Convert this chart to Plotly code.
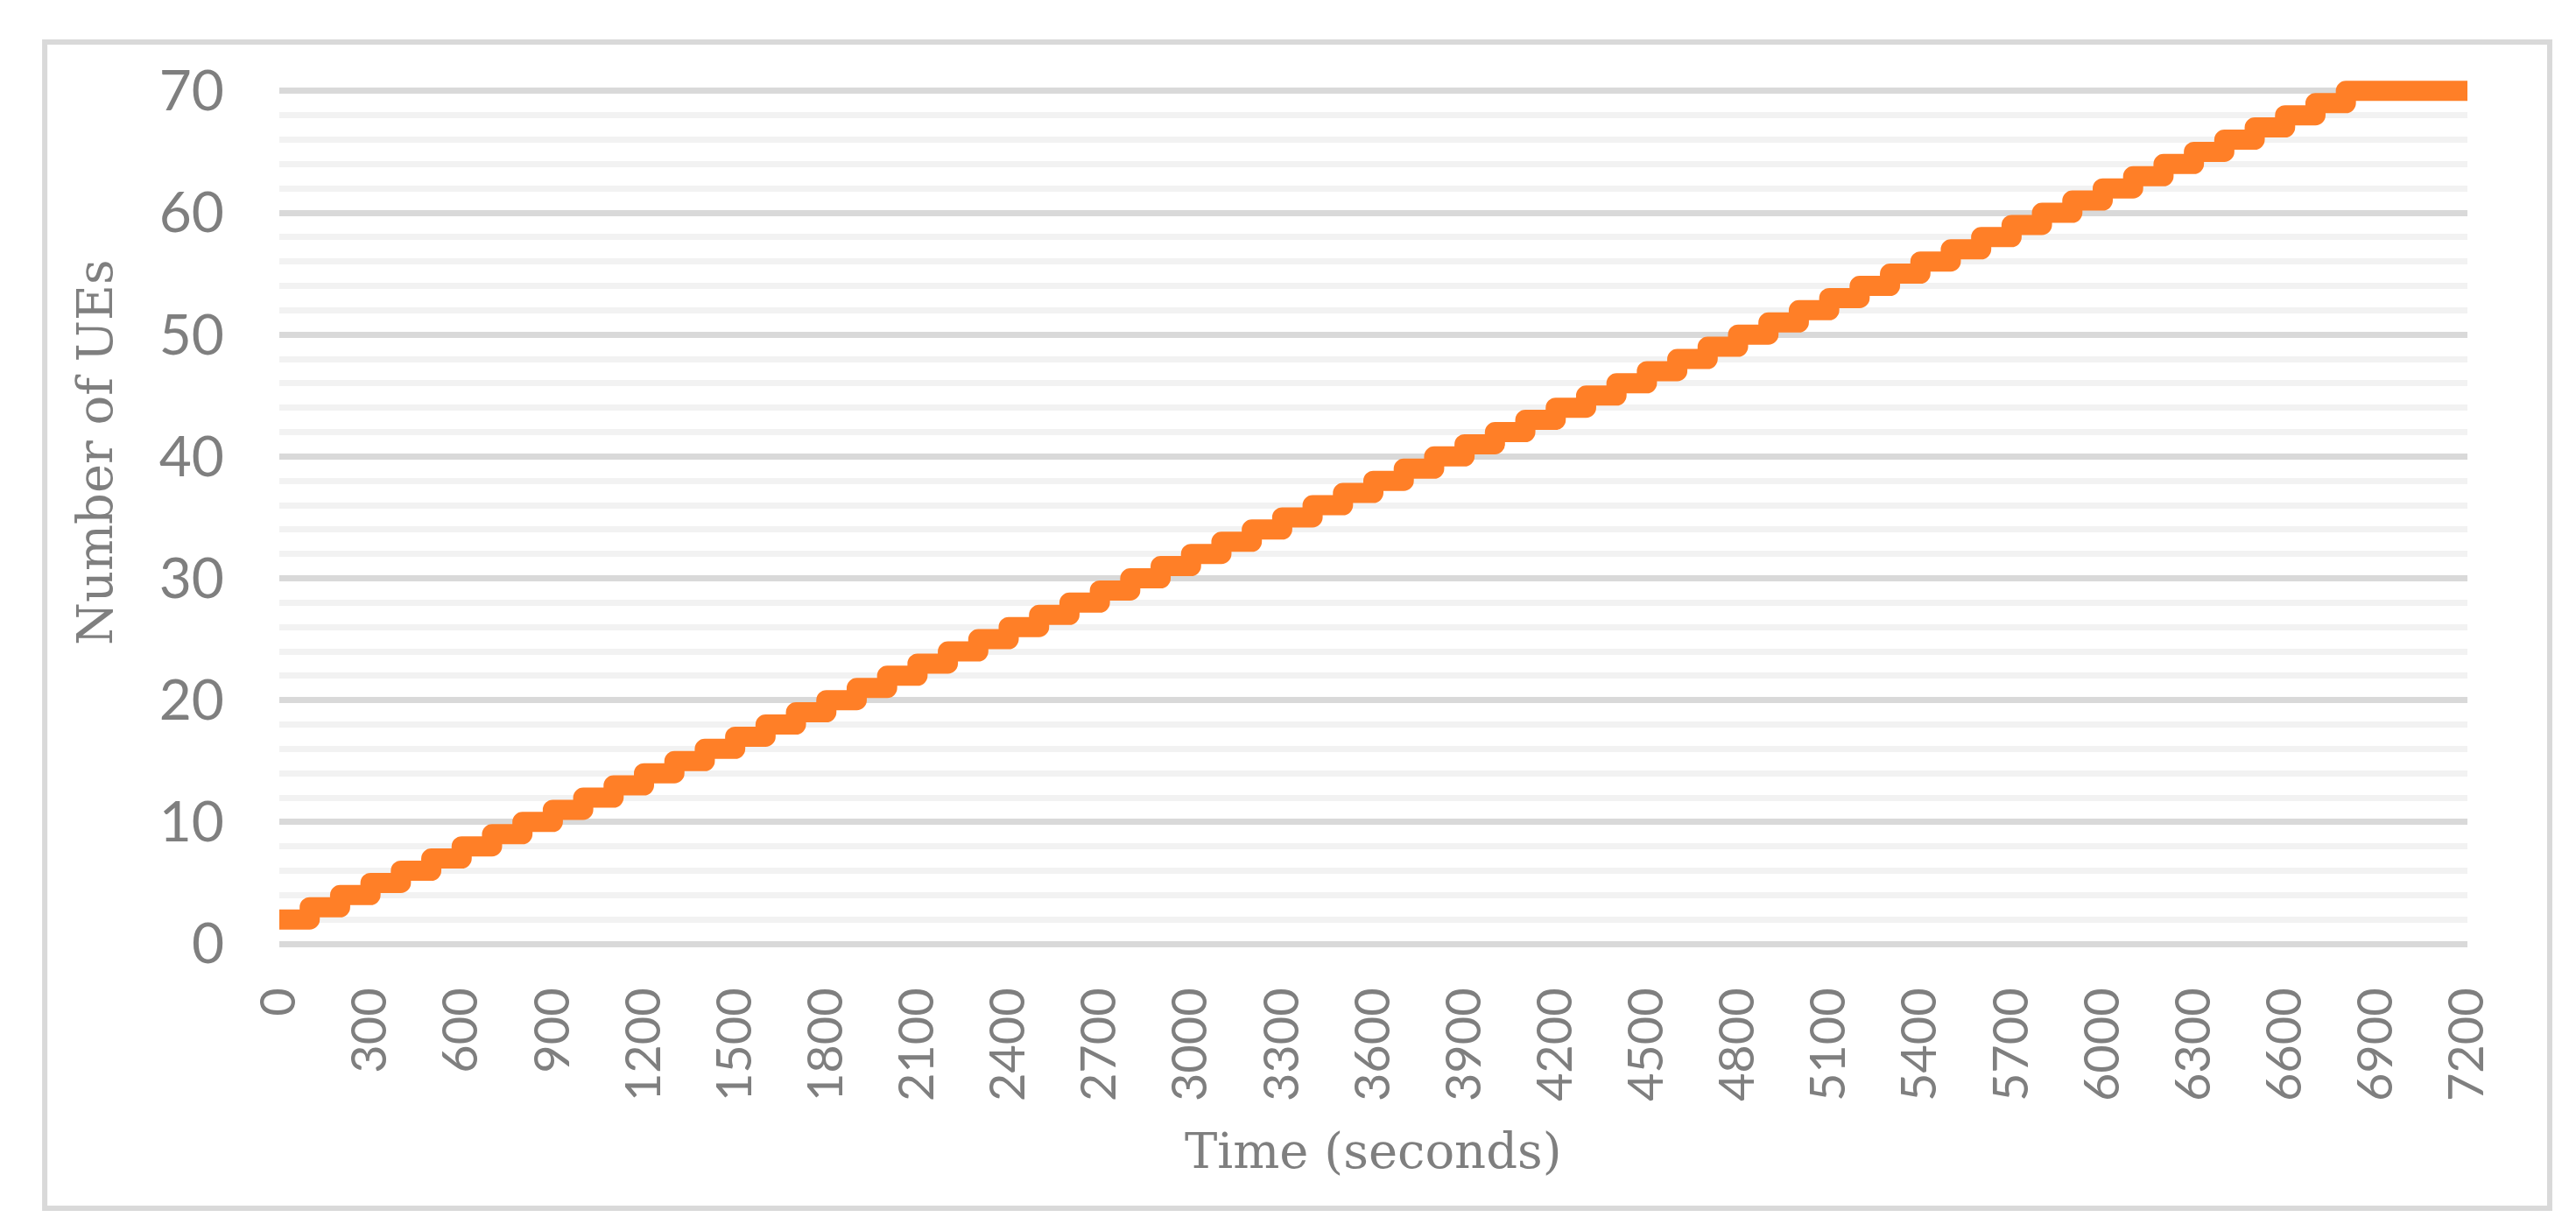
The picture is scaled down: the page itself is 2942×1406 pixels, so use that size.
import plotly.graph_objects as go

# Step times (seconds) at which the number of UEs changes, plus the end of the run
time_s = [0, 100, 200, 300, 400, 500, 600, 700, 800, 900,
          1000, 1100, 1200, 1300, 1400, 1500, 1600, 1700, 1800, 1900,
          2000, 2100, 2200, 2300, 2400, 2500, 2600, 2700, 2800, 2900,
          3000, 3100, 3200, 3300, 3400, 3500, 3600, 3700, 3800, 3900,
          4000, 4100, 4200, 4300, 4400, 4500, 4600, 4700, 4800, 4900,
          5000, 5100, 5200, 5300, 5400, 5500, 5600, 5700, 5800, 5900,
          6000, 6100, 6200, 6300, 6400, 6500, 6600, 6700, 6800, 7200]

num_ues = [2, 3, 4, 5, 6, 7, 8, 9, 10, 11,
           12, 13, 14, 15, 16, 17, 18, 19, 20, 21,
           22, 23, 24, 25, 26, 27, 28, 29, 30, 31,
           32, 33, 34, 35, 36, 37, 38, 39, 40, 41,
           42, 43, 44, 45, 46, 47, 48, 49, 50, 51,
           52, 53, 54, 55, 56, 57, 58, 59, 60, 61,
           62, 63, 64, 65, 66, 67, 68, 69, 70, 70]

x_tick_vals = [0, 300, 600, 900, 1200, 1500, 1800, 2100, 2400, 2700, 3000, 3300,
               3600, 3900, 4200, 4500, 4800, 5100, 5400, 5700, 6000, 6300, 6600,
               6900, 7200]
x_tick_text = [str(v) for v in x_tick_vals]
y_tick_vals = [0, 10, 20, 30, 40, 50, 60, 70]

x_title = "Time (seconds)"
y_title = "Number of UEs"

GRAY = "#7F7F7F"
GRID = "#D9D9D9"
MINOR = "#F2F2F2"
ORANGE = "#FF7F27"

fig = go.Figure()
fig.add_trace(go.Scatter(
    x=time_s, y=num_ues, mode="lines", line_shape="hv",
    line=dict(color=ORANGE, width=23), showlegend=False, hoverinfo="skip",
))

fig.update_layout(
    width=2942, height=1406,
    margin=dict(l=319, r=124, t=83, b=328, pad=0),
    paper_bgcolor="white", plot_bgcolor="white",
    showlegend=False,
    xaxis=dict(
        range=[0, 7200], tickvals=x_tick_vals, ticktext=x_tick_text,
        tickangle=-90, showgrid=False, zeroline=False, showline=False,
        ticks="", ticklabelstandoff=38, automargin=False,
        tickfont=dict(family="Lato", size=56, color=GRAY),
    ),
    yaxis=dict(
        range=[0, 71.5], tickvals=y_tick_vals,
        showgrid=True, gridcolor=GRID, gridwidth=7,
        zeroline=True, zerolinecolor=GRID, zerolinewidth=7,
        showline=False, ticks="", ticklabelstandoff=62, automargin=False,
        tickfont=dict(family="Lato", size=64, color=GRAY),
        minor=dict(dtick=2, showgrid=True, gridcolor=MINOR, gridwidth=7),
    ),
    annotations=[
        dict(text=x_title, xref="paper", yref="paper", x=0.5, y=-0.2372,
             xanchor="center", yanchor="middle", showarrow=False,
             font=dict(family="DejaVu Serif", size=56, color=GRAY)),
        dict(text=y_title, xref="paper", yref="paper", x=-0.0844, y=0.5638,
             xanchor="center", yanchor="middle", showarrow=False, textangle=-90,
             font=dict(family="DejaVu Serif", size=56, color=GRAY)),
    ],
    shapes=[
        dict(type="rect", xref="paper", yref="paper",
             x0=-0.1072, x1=1.0376, y0=-0.3035, y1=1.0352,
             line=dict(color=GRID, width=6), fillcolor="rgba(0,0,0,0)", layer="below"),
    ],
)

post = (
    "document.body.style.margin='0';"
    "document.querySelectorAll('.scatterlayer .js-line').forEach(function(p){"
    "p.style.strokeLinejoin='round';});"
)
fig.write_html("out.html", post_script=post, config={"displayModeBar": False})
